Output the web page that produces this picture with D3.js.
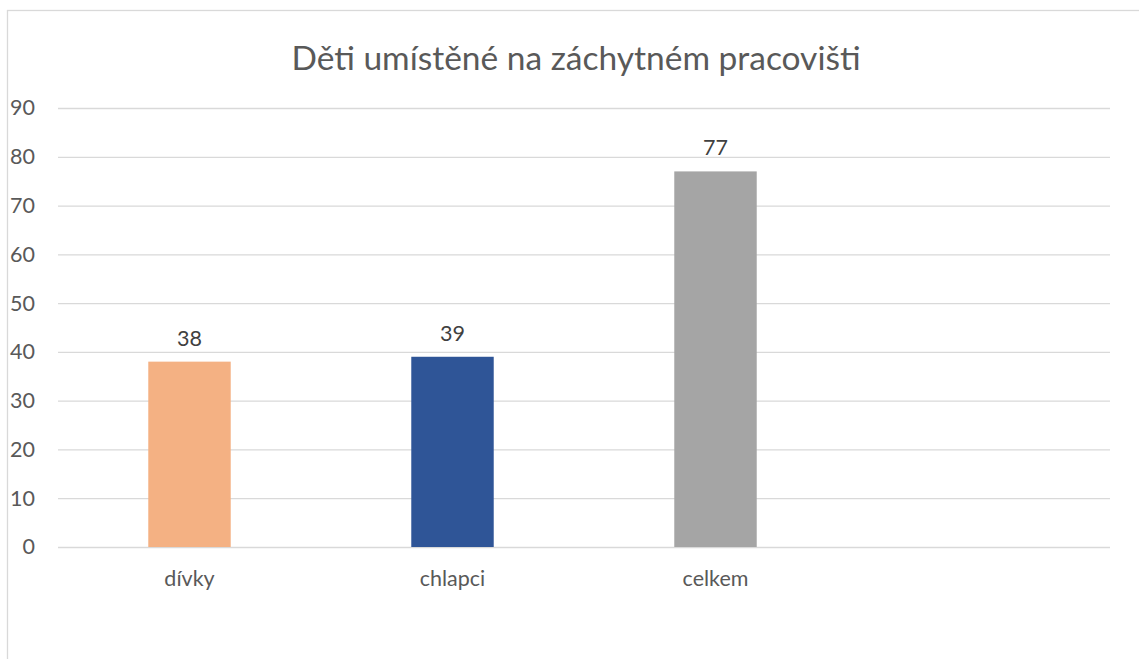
<!DOCTYPE html>
<html><head><meta charset="utf-8">
<script src="https://cdn.jsdelivr.net/npm/d3@7"></script>
<style>
html,body{margin:0;padding:0;background:#fff;}
svg{display:block;font-family:Lato,"Open Sans",sans-serif;}
</style></head>
<body><svg id="chart" width="1139" height="659"></svg>
<script>
const title = "Děti umístěné na záchytném pracovišti";
const categories = ["dívky", "chlapci", "celkem", ""];
const values = [38, 39, 77, null];
const barColors = ["#F4B183", "#2F5597", "#A5A5A5", "#FFFFFF"];
const yTicks = [0, 10, 20, 30, 40, 50, 60, 70, 80, 90];

const svg = d3.select("#chart");
const W = 1139, H = 659;
const m = {left: 58, right: 29, top: 108, bottom: 112};
const fs = 21.5;

// chart border
svg.append("rect").attr("x", 7.5).attr("y", 10.5).attr("width", 1140).attr("height", 660)
  .attr("fill", "#fff").attr("stroke", "#D9D9D9").attr("stroke-width", 1.3);

const x = d3.scaleBand().domain(categories).range([m.left, W - m.right]).paddingInner(0).paddingOuter(0);
const y = d3.scaleLinear().domain([0, 90]).range([H - m.bottom, m.top]);

// gridlines
const yAxis = d3.axisLeft(y).tickValues(yTicks).tickSize(-(W - m.left - m.right)).tickPadding(23);
const gy = svg.append("g").attr("transform", `translate(${m.left},0)`).call(yAxis);
gy.select(".domain").remove();
gy.selectAll(".tick line").attr("stroke", "#D9D9D9").attr("stroke-width", 1.3);
gy.selectAll(".tick text").attr("fill", "#595959").attr("font-size", fs).attr("font-family", "Lato, sans-serif");

// x labels
const xAxis = d3.axisBottom(x).tickSize(0).tickPadding(24);
const gx = svg.append("g").attr("transform", `translate(0,${y(0)})`).call(xAxis);
gx.select(".domain").remove();
gx.selectAll(".tick text").attr("fill", "#595959").attr("font-size", fs).attr("font-family", "Lato, sans-serif");

// bars
const data = categories.map((c, i) => ({c, v: values[i], col: barColors[i]})).filter(d => d.v != null);
const bw = x.bandwidth() / 3.19;
svg.append("g").selectAll("rect").data(data).join("rect")
  .attr("x", d => x(d.c) + x.bandwidth() / 2 - bw / 2)
  .attr("y", d => y(d.v))
  .attr("width", bw)
  .attr("height", d => y(0) - y(d.v))
  .attr("fill", d => d.col);

// data labels
svg.append("g").selectAll("text").data(data).join("text")
  .attr("x", d => x(d.c) + x.bandwidth() / 2)
  .attr("y", d => y(d.v) - 16)
  .attr("text-anchor", "middle")
  .attr("fill", "#404040").attr("font-size", fs)
  .text(d => d.v);

// title
svg.append("text").attr("x", 576).attr("y", 70).attr("text-anchor", "middle")
  .attr("fill", "#595959").attr("font-size", 33.5).text(title);
</script></body></html>
